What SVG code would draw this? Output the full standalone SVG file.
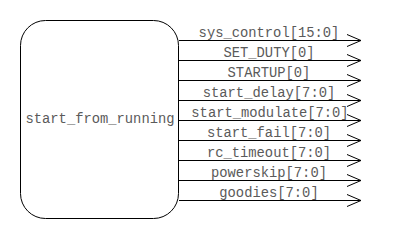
<svg xmlns="http://www.w3.org/2000/svg" width="400" height="240" viewBox="0 0 400 240">
  <style>
    .block { fill: #ffffff; stroke: #000000; stroke-width: 1; }
    .wire { stroke: #000000; stroke-width: 1; fill: none; marker-end: url(#chevron); }
    .lbl { font-family: "Liberation Mono", "Courier New", monospace; font-size: 13.8px; fill: #5a5a5a; text-anchor: middle; }
  </style>
  <defs>
    <marker id="chevron" markerUnits="userSpaceOnUse" markerWidth="16" markerHeight="14" refX="14.5" refY="6.5" orient="auto" overflow="visible">
      <polyline points="0.5,0.5 14.5,6.5 0.5,12.5" fill="none" stroke="#000000" stroke-width="1"/>
    </marker>
  </defs>
  <rect width="400" height="240" fill="#ffffff"/>

  <g id="start_from_running">
    <rect class="block" x="20.5" y="20.5" width="158" height="198" rx="25" ry="25"/>
    <text class="lbl" x="100" y="123">start_from_running</text>
  </g>

  <g id="connectors">
    <line class="wire" x1="179" y1="40.5" x2="361" y2="40.5"/>
    <line class="wire" x1="179" y1="60.5" x2="361" y2="60.5"/>
    <line class="wire" x1="179" y1="80.5" x2="361" y2="80.5"/>
    <line class="wire" x1="179" y1="100.5" x2="361" y2="100.5"/>
    <line class="wire" x1="179" y1="120.5" x2="361" y2="120.5"/>
    <line class="wire" x1="179" y1="140.5" x2="361" y2="140.5"/>
    <line class="wire" x1="179" y1="160.5" x2="361" y2="160.5"/>
    <line class="wire" x1="179" y1="180.5" x2="361" y2="180.5"/>
    <line class="wire" x1="179" y1="200.5" x2="361" y2="200.5"/>
  </g>

  <g id="port-labels">
    <text class="lbl" x="269" y="37">sys_control[15:0]</text>
    <text class="lbl" x="269" y="57">SET_DUTY[0]</text>
    <text class="lbl" x="269" y="77">STARTUP[0]</text>
    <text class="lbl" x="269" y="97">start_delay[7:0]</text>
    <text class="lbl" x="270" y="117">start_modulate[7:0]</text>
    <text class="lbl" x="269" y="137">start_fail[7:0]</text>
    <text class="lbl" x="269" y="157">rc_timeout[7:0]</text>
    <text class="lbl" x="269" y="177">powerskip[7:0]</text>
    <text class="lbl" x="269" y="197">goodies[7:0]</text>
  </g>
</svg>
